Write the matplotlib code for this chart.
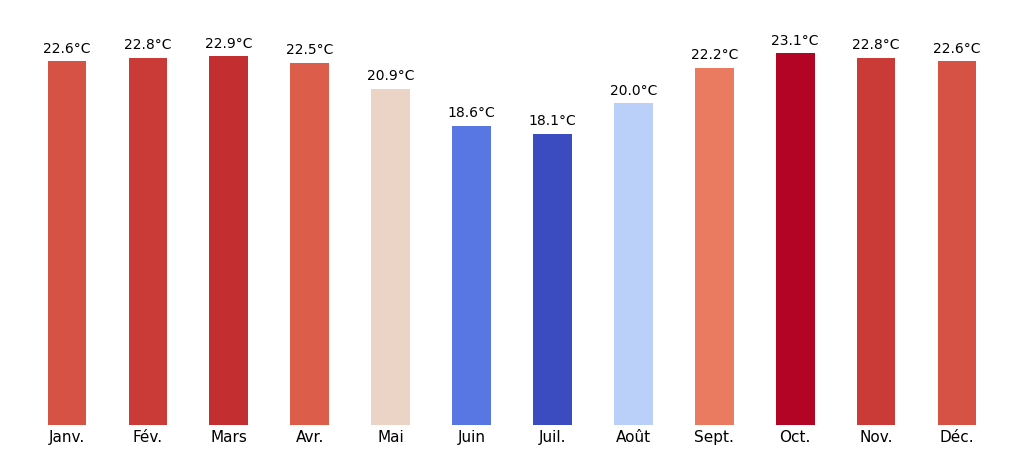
import matplotlib
matplotlib.use("Agg")
import matplotlib.pyplot as plt
import numpy as np

months = ["Janv.", "Fév.", "Mars", "Avr.", "Mai", "Juin", "Juil.", "Août", "Sept.", "Oct.", "Nov.", "Déc."]
temps = [22.6, 22.8, 22.9, 22.5, 20.9, 18.6, 18.1, 20.0, 22.2, 23.1, 22.8, 22.6]

fig = plt.figure(figsize=(10.24, 4.54), dpi=100)
ax = fig.add_axes([0.026, 0.064, 0.948, 0.886])
norm = plt.Normalize(min(temps), max(temps))
cmap = plt.get_cmap("coolwarm")
x = np.arange(len(months))
ax.bar(x, temps, width=0.48, color=[cmap(norm(t)) for t in temps])
for xi, t in zip(x, temps):
    ax.text(xi, t + 0.35, f"{t:.1f}°C", ha="center", va="bottom", fontsize=10)
ax.set_xlim(-0.5, 11.5)
ax.set_ylim(0, 25)
ax.set_xticks(x)
ax.set_xticklabels(months, fontsize=11)
ax.tick_params(axis="x", length=0, pad=4)
ax.set_yticks([])
for s in ax.spines.values():
    s.set_visible(False)
fig.savefig("out.png", dpi=100)
